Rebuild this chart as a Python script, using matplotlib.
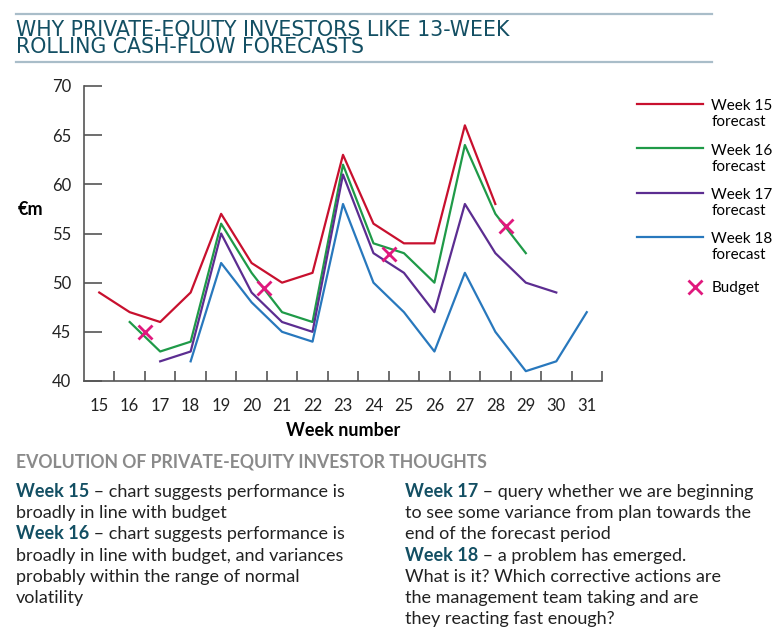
# 13-week rolling cash-flow forecasts chart

import matplotlib
matplotlib.use("Agg")
import matplotlib.pyplot as plt
from matplotlib.lines import Line2D
from matplotlib.legend_handler import HandlerLine2D

plt.rcParams["font.family"] = ["Lato", "DejaVu Sans"]

weeks15 = list(range(15, 29))
fc15 = [49, 47, 46, 49, 57, 52, 50, 51, 63, 56, 54, 54, 66, 58]
weeks16 = list(range(16, 30))
fc16 = [46, 43, 44, 56, 51, 47, 46, 62, 54, 53, 50, 64, 57, 53]
weeks17 = list(range(17, 31))
fc17 = [42, 43, 55, 49, 46, 45, 61, 53, 51, 47, 58, 53, 50, 49]
weeks18 = list(range(18, 32))
fc18 = [42, 52, 48, 45, 44, 58, 50, 47, 43, 51, 45, 41, 42, 47]
budget_x = [16.5, 20.4, 24.5, 28.35]
budget_y = [45, 49.5, 52.9, 55.8]

series = [
    ("Week 15\nforecast", weeks15, fc15, "#c8102e"),
    ("Week 16\nforecast", weeks16, fc16, "#1f9a48"),
    ("Week 17\nforecast", weeks17, fc17, "#5c2d91"),
    ("Week 18\nforecast", weeks18, fc18, "#2878bd"),
]

teal = "#134f63"
W, H = 780, 638
fig = plt.figure(figsize=(W / 100, H / 100), dpi=100)

# title block
for yy in (14, 62):
    fig.add_artist(Line2D([16 / W, 712 / W], [1 - yy / H, 1 - yy / H],
                          color="#a9bdc9", lw=1.6))
fig.text(16 / W, 1 - 36 / H, "WHY PRIVATE-EQUITY INVESTORS LIKE 13-WEEK",
         color=teal, fontsize=14.8, family="DejaVu Sans", va="baseline")
fig.text(16 / W, 1 - 53 / H, "ROLLING CASH-FLOW FORECASTS",
         color=teal, fontsize=14.8, family="DejaVu Sans", va="baseline")

ax = fig.add_axes([84 / W, 1 - 381 / H, (602 - 84) / W, (381 - 86) / H])
for label, xs, ys, col in series:
    ax.plot(xs, ys, color=col, lw=1.6, label=label)
ax.plot(budget_x, budget_y, ls="none", marker="x", ms=10, mew=2,
        color="#e0197d", label="Budget")

ax.set_xlim(14.5, 31.5)
ax.set_ylim(40, 70)
ax.set_xticks(range(15, 32))
ax.set_xticks([x + 0.5 for x in range(15, 32)], minor=True)
ax.set_yticks(range(40, 71, 5))
ax.tick_params(axis="x", which="major", length=0, pad=12, labelsize=12, colors="#222")
ax.tick_params(axis="x", which="minor", direction="in", length=7, width=1.2, color="#555")
ax.tick_params(axis="y", direction="in", length=13, width=1.2, color="#555",
               pad=9, labelsize=12, labelcolor="#222")
for s in ("top", "right"):
    ax.spines[s].set_visible(False)
for s in ("left", "bottom"):
    ax.spines[s].set_color("#555")
    ax.spines[s].set_linewidth(1.2)
ax.set_xlabel("Week number", fontsize=13, fontweight="bold", labelpad=6)
ax.set_ylabel("€m", fontsize=13, fontweight="bold", rotation=0, va="center")
ax.yaxis.set_label_coords(-0.104, 0.58)


class UpperLine(HandlerLine2D):
    # legend line sits level with the first text line, not the middle
    def create_artists(self, legend, orig_handle, xdescent, ydescent, width, height, fontsize, trans):
        arts = super().create_artists(legend, orig_handle, xdescent, ydescent,
                                      width, height, fontsize, trans)
        for a in arts:
            a.set_ydata([y + 0.68 * fontsize for y in a.get_ydata()])
        return arts


handles, labels = ax.get_legend_handles_labels()
leg1 = ax.legend(handles[:4], labels[:4], loc="upper left", bbox_to_anchor=(1.0676, 0.955),
                 frameon=False, fontsize=11, handlelength=4.3, handletextpad=0.55,
                 labelspacing=0.92, borderaxespad=0, borderpad=0,
                 handler_map={Line2D: UpperLine()})
ax.add_artist(leg1)
ax.legend(handles[4:], labels[4:], loc="center left", bbox_to_anchor=(1.165, 0.315),
          frameon=False, fontsize=11, handlelength=1.0, handletextpad=0.6,
          borderaxespad=0, borderpad=0)

# lower text block
fig.text(16 / W, 1 - 467 / H, "EVOLUTION OF PRIVATE-EQUITY INVESTOR THOUGHTS",
         color="#8a8a8a", fontsize=12.7, fontweight="bold", va="baseline")

notes_left = [
    ("Week 15", " – chart suggests performance is"),
    ("", "broadly in line with budget"),
    ("Week 16", " – chart suggests performance is"),
    ("", "broadly in line with budget, and variances"),
    ("", "probably within the range of normal"),
    ("", "volatility"),
]
notes_right = [
    ("Week 17", " – query whether we are beginning"),
    ("", "to see some variance from plan towards the"),
    ("", "end of the forecast period"),
    ("Week 18", " – a problem has emerged."),
    ("", "What is it? Which corrective actions are"),
    ("", "the management team taking and are"),
    ("", "they reacting fast enough?"),
]

renderer = fig.canvas.get_renderer()


def write_lines(x0, notes):
    for i, (bold, rest) in enumerate(notes):
        y = 1 - (497 + i * 21.2) / H
        x = x0 / W
        if bold:
            t = fig.text(x, y, bold, color=teal, fontsize=13, fontweight="bold", va="baseline")
            bb = t.get_window_extent(renderer)
            x = bb.x1 / W
        fig.text(x, y, rest, color="#222", fontsize=13, va="baseline")


write_lines(16, notes_left)
write_lines(405, notes_right)

fig.savefig("out.png", dpi=100)
